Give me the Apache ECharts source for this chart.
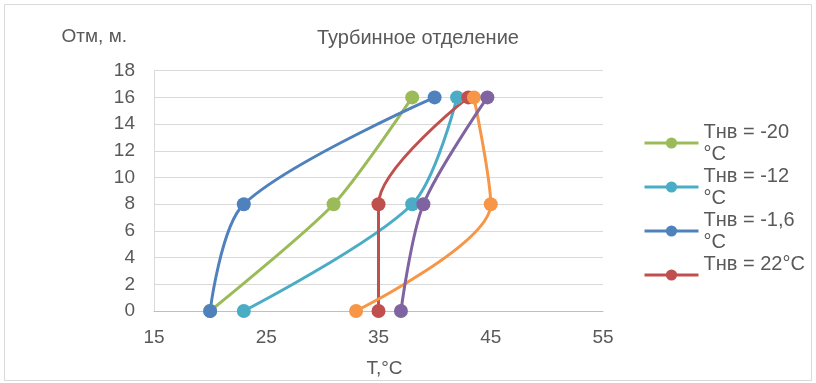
<!DOCTYPE html>
<html>
<head>
<meta charset="utf-8">
<script src="https://cdn.jsdelivr.net/npm/echarts@6/dist/echarts.min.js"></script>
<style>
html,body{margin:0;padding:0;background:#fff;}
#chart{width:816px;height:383px;}
</style>
</head>
<body>
<div id="chart"></div>
<script>
// Data
const heights = [0, 8, 16];            // Отм, м.
const tGreen = [20, 31, 38];           // Тнв = -20 °C
const tLightBlue = [23, 38, 42];       // Тнв = -12 °C
const tBlue = [20, 23, 40];            // Тнв = -1,6 °C
const tRed = [35, 35, 43];             // Тнв = 22°C
const tOrange = [33, 45, 43.5];
const tPurple = [37, 39, 44.7];
const xTicks = [15, 25, 35, 45, 55];
const yTicks = [0, 2, 4, 6, 8, 10, 12, 14, 16, 18];

const seriesNames = ['Тнв = -20 °C', 'Тнв = -12 °C', 'Тнв = -1,6 °C', 'Тнв = 22°C', 'Ряд5', 'Ряд6'];
const seriesTemps = [tGreen, tLightBlue, tBlue, tRed, tOrange, tPurple];
const seriesColors = ['#9bbb59', '#4bacc6', '#4f81bd', '#c0504d', '#f79646', '#8064a2'];
const seriesSmooth = [0.25, 0.3, 0.3, 0.3, 0.3, 0.3];
const legendNames = seriesNames.slice(0, 4);

const FONT = 'Liberation Sans, Arial, sans-serif';
const TXT = '#595959';

const chart = echarts.init(document.getElementById('chart'), null, {renderer: 'canvas'});

const series = seriesNames.map((name, i) => ({
  name: name,
  type: 'line',
  smooth: seriesSmooth[i],
  symbol: 'circle',
  symbolSize: 14,
  color: seriesColors[i],
  lineStyle: {width: 3, color: seriesColors[i]},
  itemStyle: {color: seriesColors[i]},
  emphasis: {disabled: true},
  data: heights.map((h, k) => [seriesTemps[i][k], h])
}));

chart.setOption({
  animation: false,
  backgroundColor: '#ffffff',
  textStyle: {fontFamily: FONT},
  title: {
    text: 'Турбинное отделение',
    left: 312,
    top: 23,
    textStyle: {fontSize: 20, fontWeight: 'normal', color: TXT, fontFamily: FONT}
  },
  graphic: [{
    type: 'rect',
    shape: {x: 4.5, y: 4.5, width: 807, height: 376},
    style: {fill: 'none', stroke: '#d9d9d9', lineWidth: 1},
    silent: true
  }],
  grid: {left: 154, right: 213, top: 70.7, bottom: 71.3, containLabel: false},
  xAxis: {
    type: 'value',
    min: xTicks[0],
    max: xTicks[xTicks.length - 1],
    interval: xTicks[1] - xTicks[0],
    name: 'T,°C',
    nameLocation: 'middle',
    nameGap: 48,
    nameTextStyle: {fontSize: 19, color: TXT, fontFamily: FONT, padding: [0, 0, 0, 12]},
    axisLine: {show: true, lineStyle: {color: '#bfbfbf', width: 1}},
    axisTick: {show: false},
    splitLine: {show: false},
    axisLabel: {fontSize: 19, color: TXT, fontFamily: FONT, margin: 17}
  },
  yAxis: {
    type: 'value',
    min: yTicks[0],
    max: yTicks[yTicks.length - 1],
    interval: yTicks[1] - yTicks[0],
    name: 'Отм, м.',
    nameLocation: 'end',
    nameGap: 24,
    nameTextStyle: {fontSize: 19, color: TXT, fontFamily: FONT, align: 'right', padding: [0, 27, 0, 0]},
    axisLine: {show: true, lineStyle: {color: '#d9d9d9', width: 1}},
    axisTick: {show: false},
    splitLine: {show: true, lineStyle: {color: '#d9d9d9', width: 1}},
    axisLabel: {fontSize: 19, color: TXT, fontFamily: FONT, margin: 19}
  },
  legend: {
    data: legendNames,
    orient: 'vertical',
    left: 643,
    top: 110,
    padding: 0,
    itemWidth: 54,
    itemHeight: 14,
    itemGap: -22,
    selectedMode: false,
    lineStyle: {width: 3},
    formatter: function (name) {
      if (name.indexOf(' °C') >= 0) return name.replace(' °C', '\n°C');
      return name + '\n\u00a0';
    },
    textStyle: {fontSize: 20, color: TXT, fontFamily: FONT, lineHeight: 22, padding: [22, 0, 0, 0]}
  },
  series: series
});
</script>
</body>
</html>
